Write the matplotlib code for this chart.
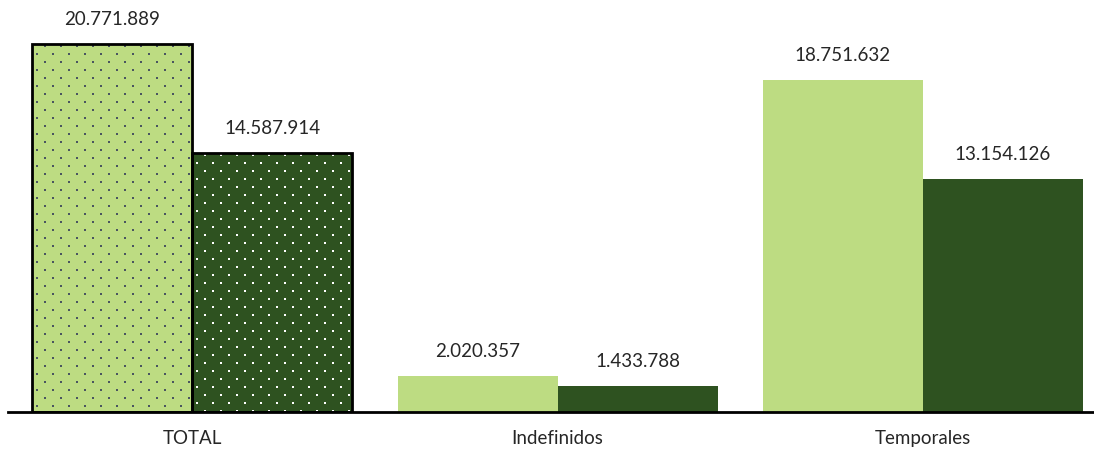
import matplotlib
matplotlib.use("Agg")
import matplotlib.pyplot as plt
import numpy as np

categories = ["TOTAL", "Indefinidos", "Temporales"]
series_a = [20771889, 2020357, 18751632]
series_b = [14587914, 1433788, 13154126]

def fmt(v):
    return f"{v:,}".replace(",", ".")

plt.rcParams['font.family'] = ['Lato', 'DejaVu Sans']

light = "#BDDC82"
dark = "#2E5220"
txtcol = "#262626"

fig = plt.figure(figsize=(10.94, 4.51), dpi=100)
W, H = 1094, 451
ax = fig.add_axes([8 / W, (H - 411.5) / H, (1094 - 8) / W, 411.5 / H])

x = np.arange(len(categories))
bw = 160 / 365.5

ax.set_xlim(-(192 - 8) / 365.5, 2 + (1094 - 923) / 365.5)
ax.set_ylim(0, 411.5 / 17.69 * 1e6)


def dot_texture(patch, color):
    # staggered dot texture (16 px horizontal period, 8 px rows) clipped to the bar
    bb = patch.get_window_extent(renderer=None)
    x0, y0, x1, y1 = bb.x0, bb.y0, bb.x1, bb.y1
    pts = []
    row = 0
    yy = y1 - 2
    while yy > y0:
        start = x0 + (13 if row % 2 == 0 else 5)
        xx = start
        while xx < x1:
            pts.append((xx, yy))
            xx += 16
        yy -= 8
        row += 1
    pts = np.array(pts)
    dpts = ax.transData.inverted().transform(pts)
    sc = ax.scatter(dpts[:, 0], dpts[:, 1], s=(1.8 * 72 / 100) ** 2, marker="s",
                    color=color, linewidths=0, zorder=2.5)
    sc.set_clip_path(patch)


for i in range(len(categories)):
    for j, (vals, col, hcol) in enumerate([(series_a, light, "#4A5560"), (series_b, dark, "white")]):
        xpos = x[i] + (j - 0.5) * bw
        bars = ax.bar(xpos, vals[i], width=bw, color=col, linewidth=0, zorder=2)
        if i == 0:
            dot_texture(bars[0], hcol)
            ax.bar(xpos, vals[i], width=bw, fill=False, edgecolor="black", linewidth=2, zorder=3)
        ax.annotate(fmt(vals[i]), (xpos, vals[i]), xytext=(0, 11.5), textcoords="offset points",
                    ha="center", va="bottom", fontsize=13.5, color=txtcol)

ax.set_xticks(x)
ax.set_xticklabels(categories, fontsize=13.5, color=txtcol)
ax.tick_params(axis="x", length=0, pad=13)
ax.set_yticks([])
for s in ["top", "right", "left"]:
    ax.spines[s].set_visible(False)
ax.spines["bottom"].set_linewidth(2)
ax.spines["bottom"].set_zorder(4)

fig.savefig("out.png", dpi=100)
